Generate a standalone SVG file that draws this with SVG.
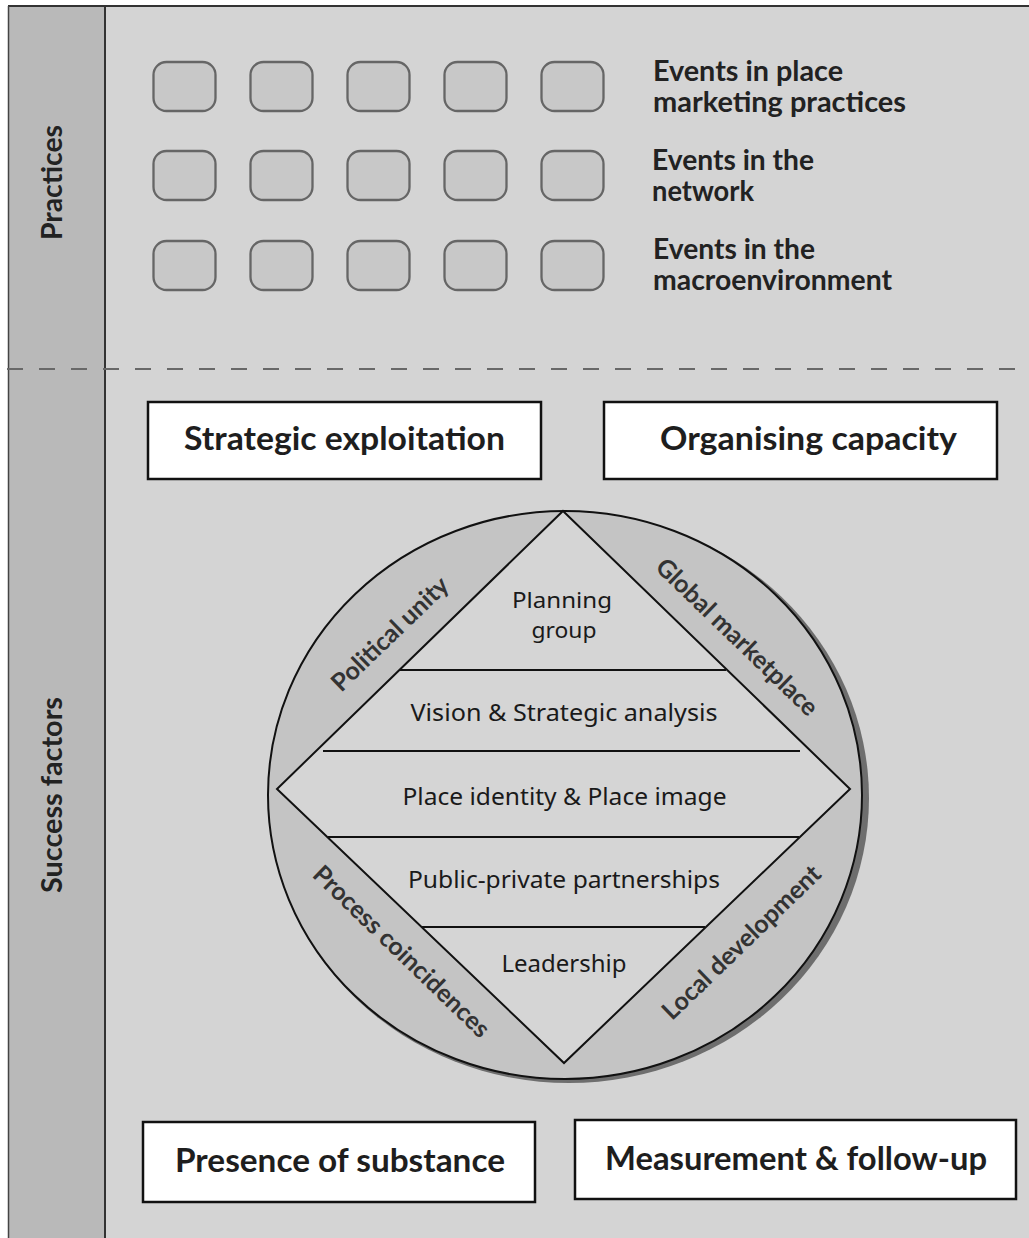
<svg xmlns="http://www.w3.org/2000/svg" width="1029" height="1238" viewBox="0 0 1029 1238">
<style>
.ev{fill:#c8c8c8;stroke:#666;stroke-width:2.3}
.box{fill:#ffffff;stroke:#111;stroke-width:2.5}
.lbl{font-family:Lato,"Liberation Sans",sans-serif;font-weight:bold;font-size:28px;fill:#222}
.side{font-family:Lato,"Liberation Sans",sans-serif;font-weight:bold;font-size:29px;fill:#222}
.bx{font-family:Lato,"Liberation Sans",sans-serif;font-weight:bold;font-size:32px;fill:#1e1e1e}
.in{font-family:"Noto Sans","Liberation Sans",sans-serif;font-size:23px;fill:#1a1a1a}
.in2{font-family:"Noto Sans","Liberation Sans",sans-serif;font-size:22px;fill:#1a1a1a}
.seg{font-family:Lato,"Liberation Sans",sans-serif;font-weight:bold;font-size:25px;fill:#333;text-anchor:middle}
.ln{stroke:#111;stroke-width:2}
</style>
<g id="background">
<rect x="105" y="6" width="924" height="1232" fill="#d4d4d4"/>
<rect x="8" y="6" width="97" height="1232" fill="#b9b9b9"/>
<line x1="8" y1="6" x2="1029" y2="6" stroke="#333" stroke-width="2"/>
<line x1="8.5" y1="6" x2="8.5" y2="1238" stroke="#444" stroke-width="1.5"/>
<line x1="105" y1="6" x2="105" y2="1238" stroke="#333" stroke-width="2"/>
<line x1="7" y1="369" x2="1029" y2="369" stroke="#686868" stroke-width="2" stroke-dasharray="16 16"/>
</g>
<g id="side-labels">
<text class="side" transform="translate(61.5,182.5) rotate(-90)" text-anchor="middle" textLength="115" lengthAdjust="spacingAndGlyphs">Practices</text>
<text class="side" transform="translate(62,795) rotate(-90)" text-anchor="middle" textLength="196" lengthAdjust="spacingAndGlyphs">Success factors</text>
</g>
<g id="events">
<rect class="ev" x="153.5" y="62" width="62" height="49" rx="13"/>
<rect class="ev" x="250.5" y="62" width="62" height="49" rx="13"/>
<rect class="ev" x="347.5" y="62" width="62" height="49" rx="13"/>
<rect class="ev" x="444.5" y="62" width="62" height="49" rx="13"/>
<rect class="ev" x="541.5" y="62" width="62" height="49" rx="13"/>
<rect class="ev" x="153.5" y="151" width="62" height="49" rx="13"/>
<rect class="ev" x="250.5" y="151" width="62" height="49" rx="13"/>
<rect class="ev" x="347.5" y="151" width="62" height="49" rx="13"/>
<rect class="ev" x="444.5" y="151" width="62" height="49" rx="13"/>
<rect class="ev" x="541.5" y="151" width="62" height="49" rx="13"/>
<rect class="ev" x="153.5" y="241" width="62" height="49" rx="13"/>
<rect class="ev" x="250.5" y="241" width="62" height="49" rx="13"/>
<rect class="ev" x="347.5" y="241" width="62" height="49" rx="13"/>
<rect class="ev" x="444.5" y="241" width="62" height="49" rx="13"/>
<rect class="ev" x="541.5" y="241" width="62" height="49" rx="13"/>
</g>
<g id="event-labels">
<text class="lbl" x="653" y="81" textLength="190" lengthAdjust="spacingAndGlyphs">Events in place</text>
<text class="lbl" x="653" y="112" textLength="253" lengthAdjust="spacingAndGlyphs">marketing practices</text>
<text class="lbl" x="652" y="170" textLength="162" lengthAdjust="spacingAndGlyphs">Events in the</text>
<text class="lbl" x="652" y="201" textLength="102" lengthAdjust="spacingAndGlyphs">network</text>
<text class="lbl" x="653" y="259" textLength="162" lengthAdjust="spacingAndGlyphs">Events in the</text>
<text class="lbl" x="653" y="290" textLength="239" lengthAdjust="spacingAndGlyphs">macroenvironment</text>
</g>
<g id="box-strategic">
<rect class="box" x="148" y="402" width="393" height="77"/>
<text class="bx" x="344.5" y="450" text-anchor="middle" textLength="321" lengthAdjust="spacingAndGlyphs">Strategic exploitation</text>
</g>
<g id="box-organising">
<rect class="box" x="604" y="402" width="393" height="77"/>
<text class="bx" x="808.5" y="450" text-anchor="middle" textLength="297" lengthAdjust="spacingAndGlyphs">Organising capacity</text>
</g>
<g id="box-presence">
<rect class="box" x="143" y="1122" width="392" height="80"/>
<text class="bx" x="340" y="1172" text-anchor="middle" textLength="330" lengthAdjust="spacingAndGlyphs">Presence of substance</text>
</g>
<g id="box-measurement">
<rect class="box" x="575" y="1120" width="441" height="79"/>
<text class="bx" x="796" y="1170" text-anchor="middle" textLength="382" lengthAdjust="spacingAndGlyphs">Measurement &amp; follow-up</text>
</g>
<g id="circle">
<ellipse cx="569" cy="798" rx="300" ry="285" fill="#6e6e6e"/>
<ellipse cx="565" cy="795" rx="297" ry="284" fill="#c4c4c4" stroke="#111" stroke-width="2"/>
<polygon points="563,511 850,789 564,1063 277,789" fill="#d5d5d5" stroke="#111" stroke-width="2" stroke-linejoin="miter"/>
</g>
<g id="layers">
<line class="ln" x1="400" y1="670" x2="726" y2="670"/>
<line class="ln" x1="323" y1="751" x2="800" y2="751"/>
<line class="ln" x1="328" y1="837" x2="799" y2="837"/>
<line class="ln" x1="422" y1="927" x2="705" y2="927"/>
</g>
<g id="layer-labels">
<text class="in2" x="562" y="608" text-anchor="middle" textLength="100" lengthAdjust="spacingAndGlyphs">Planning</text>
<text class="in2" x="564" y="638" text-anchor="middle" textLength="65" lengthAdjust="spacingAndGlyphs">group</text>
<text class="in" x="410.5" y="721" textLength="307" lengthAdjust="spacingAndGlyphs">Vision &amp; Strategic analysis</text>
<text class="in" x="402.5" y="805" textLength="324" lengthAdjust="spacingAndGlyphs">Place identity &amp; Place image</text>
<text class="in" x="408" y="888" textLength="312" lengthAdjust="spacingAndGlyphs">Public-private partnerships</text>
<text class="in" x="501.5" y="972" textLength="125" lengthAdjust="spacingAndGlyphs">Leadership</text>
</g>
<g id="segment-labels">
<text class="seg" transform="translate(390,634) rotate(-44)" y="8.5">Political unity</text>
<text class="seg" transform="translate(737,637) rotate(44)" y="8.5">Global marketplace</text>
<text class="seg" transform="translate(401.5,951.5) rotate(44)" y="8.5">Process coincidences</text>
<text class="seg" transform="translate(741.5,942.5) rotate(-44)" y="8.5">Local development</text>
</g>
<g id="connectors"/>
</svg>
